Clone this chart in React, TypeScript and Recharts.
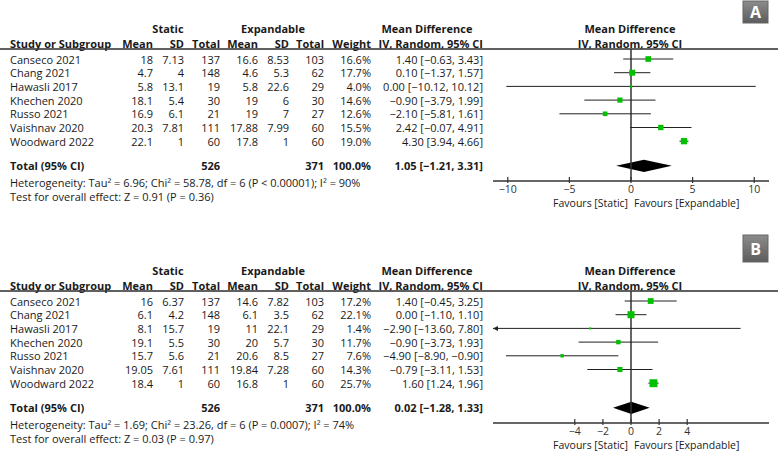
import React from 'react';
import { ScatterChart, Scatter, XAxis, YAxis, ReferenceLine, ReferenceArea, ReferenceDot, ErrorBar } from 'recharts';

const studies = ['Canseco 2021', 'Chang 2021', 'Hawasli 2017', 'Khechen 2020', 'Russo 2021', 'Vaishnav 2020', 'Woodward 2022'];

// Panel A
const staticMeanA = [18, 4.7, 5.8, 18.1, 16.9, 20.3, 22.1];
const staticSdA = [7.13, 4, 13.1, 5.4, 6.1, 7.81, 1];
const staticNA = [137, 148, 19, 30, 21, 111, 60];
const expMeanA = [16.6, 4.6, 5.8, 19, 19, 17.88, 17.8];
const expSdA = [8.53, 5.3, 22.6, 6, 7, 7.99, 1];
const expNA = [103, 62, 29, 30, 27, 60, 60];
const weightA = [16.6, 17.7, 4.0, 14.6, 12.6, 15.5, 19.0];
const mdA = [1.4, 0.1, 0.0, -0.9, -2.1, 2.42, 4.3];
const loA = [-0.63, -1.37, -10.12, -3.79, -5.81, -0.07, 3.94];
const hiA = [3.43, 1.57, 10.12, 1.99, 1.61, 4.91, 4.66];
const totalNA = [526, 371];
const pooledA = [1.05, -1.21, 3.31];
const hetA = 'Heterogeneity: Tau² = 6.96; Chi² = 58.78, df = 6 (P < 0.00001); I² = 90%';
const testA = 'Test for overall effect: Z = 0.91 (P = 0.36)';
const ticksA = [-10, -5, 0, 5, 10];

// Panel B
const staticMeanB = [16, 6.1, 8.1, 19.1, 15.7, 19.05, 18.4];
const staticSdB = [6.37, 4.2, 15.7, 5.5, 5.6, 7.61, 1];
const staticNB = [137, 148, 19, 30, 21, 111, 60];
const expMeanB = [14.6, 6.1, 11, 20, 20.6, 19.84, 16.8];
const expSdB = [7.82, 3.5, 22.1, 5.7, 8.5, 7.28, 1];
const expNB = [103, 62, 29, 30, 27, 60, 60];
const weightB = [17.2, 22.1, 1.4, 11.7, 7.6, 14.3, 25.7];
const mdB = [1.4, 0.0, -2.9, -0.9, -4.9, -0.79, 1.6];
const loB = [-0.45, -1.1, -13.6, -3.73, -8.9, -3.11, 1.24];
const hiB = [3.25, 1.1, 7.8, 1.93, -0.9, 1.53, 1.96];
const totalNB = [526, 371];
const pooledB = [0.02, -1.28, 1.33];
const hetB = 'Heterogeneity: Tau² = 1.69; Chi² = 23.26, df = 6 (P = 0.0007); I² = 74%';
const testB = 'Test for overall effect: Z = 0.03 (P = 0.97)';
const ticksB = [-4, -2, 0, 2, 4];

// layout
const FONT = "'Open Sans', 'Liberation Sans', sans-serif";
const ROW0 = 59;
const ROW_H = 13.7;
const TOTAL_ROW = 7.8;
const PLOT_TOP = 49;
const PLOT_BOTTOM = 181;
const CHART_H = 215;
const yDomain = [(PLOT_TOP - ROW0) / ROW_H, (PLOT_BOTTOM - ROW0) / ROW_H];
const rowY = (r: number) => ROW0 + ROW_H * r;

const minus = (s: string) => s.replace('-', '−');
const f2 = (v: number) => minus(v.toFixed(2));
const ci = (m: number, l: number, h: number) => `${f2(m)} [${f2(l)}, ${f2(h)}]`;

const AxisTick = (props: any) => {
  const { x, y, payload } = props;
  return (
    <g>
      <line x1={x} x2={x} y1={y - 4} y2={y + 2} stroke="#333" strokeWidth={1.2} />
      <text x={x} y={y + 8} textAnchor="middle" dominantBaseline="central" fontSize={10.5} fill="#333" fontFamily={FONT}>
        {minus(String(payload.value))}
      </text>
    </g>
  );
};

const Box = (p: any) => {
  const s = Math.max(2, 1.5 + p.payload.weight * 0.25);
  return <rect x={p.cx - s / 2} y={p.cy - s / 2} width={s} height={s} fill="#00c000" />;
};

const T = ({ x, y, a = 'end', b = false, size = 11, children }: any) => (
  <text x={x} y={y} textAnchor={a} dominantBaseline="central" fontSize={size} fontWeight={b ? 700 : 400} fill="#1a1a1a" fontFamily={FONT}>
    {children}
  </text>
);

const Panel = ({ top, letter, badge, d }: any) => {
  const [xmin, xmax] = d.xDomain;
  // CI whiskers are cut at the axis ends; an arrow marks the cut
  const rows = d.md.map((v: number, i: number) => ({
    md: v,
    row: i,
    weight: d.weight[i],
    err: [v - Math.max(d.lo[i], xmin), Math.min(d.hi[i], xmax) - v],
  }));
  const [pm, pl, ph] = d.pooled;
  const frac = (pm - pl) / (ph - pl);
  const diamond = (p: any) => {
    const { x, y, width, height } = p;
    const pts = [
      [x, y + height / 2],
      [x + width * frac, y],
      [x + width, y + height / 2],
      [x + width * frac, y + height],
    ];
    return <polygon points={pts.map((q) => q.join(',')).join(' ')} fill="#000" />;
  };
  const arrow = (p: any) => (
    <polygon points={`${p.cx},${p.cy} ${p.cx + 5},${p.cy - 2.5} ${p.cx + 5},${p.cy + 2.5}`} fill="#222" />
  );

  return (
    <div style={{ position: 'absolute', left: 0, top, width: 780, height: CHART_H }}>
      <svg width={780} height={CHART_H} style={{ position: 'absolute', left: 0, top: 0, overflow: 'visible' }}>
        <defs>
          <linearGradient id={`bg${letter}`} x1="0" y1="0" x2="0" y2="1">
            <stop offset="0" stopColor="#8c8c8c" />
            <stop offset="1" stopColor="#5c5c5c" />
          </linearGradient>
        </defs>
        <rect x={743} y={badge[0]} width={25} height={badge[1]} fill={`url(#bg${letter})`} stroke="#666" />
        <text
          x={755.5}
          y={badge[0] + badge[1] / 2}
          textAnchor="middle"
          dominantBaseline="central"
          fontSize={16}
          fontWeight={700}
          fill="#fff"
          fontFamily={FONT}
        >
          {letter}
        </text>

        <T x={168} y={28} a="middle" b>Static</T>
        <T x={273} y={28} a="middle" b>Expandable</T>
        <T x={427} y={28} a="middle" b>Mean Difference</T>
        <T x={630} y={28} a="middle" b>Mean Difference</T>
        <T x={10} y={43} a="start" b>Study or Subgroup</T>
        <T x={153} y={43} b>Mean</T>
        <T x={184} y={43} b>SD</T>
        <T x={220} y={43} b>Total</T>
        <T x={258} y={43} b>Mean</T>
        <T x={289} y={43} b>SD</T>
        <T x={324} y={43} b>Total</T>
        <T x={371} y={43} b>Weight</T>
        <T x={483} y={43} b>IV, Random, 95% CI</T>
        <T x={630} y={43} a="middle" b>IV, Random, 95% CI</T>
        <rect x={0} y={48.2} width={778} height={1.6} fill="#3a3a3a" />

        {studies.map((s, i) => (
          <g key={s}>
            <T x={10} y={rowY(i)} a="start">{s}</T>
            <T x={153} y={rowY(i)}>{d.staticMean[i]}</T>
            <T x={184} y={rowY(i)}>{d.staticSd[i]}</T>
            <T x={220} y={rowY(i)}>{d.staticN[i]}</T>
            <T x={258} y={rowY(i)}>{d.expMean[i]}</T>
            <T x={289} y={rowY(i)}>{d.expSd[i]}</T>
            <T x={324} y={rowY(i)}>{d.expN[i]}</T>
            <T x={371} y={rowY(i)}>{d.weight[i].toFixed(1)}%</T>
            <T x={483} y={rowY(i)}>{ci(d.md[i], d.lo[i], d.hi[i])}</T>
          </g>
        ))}

        <T x={10} y={rowY(TOTAL_ROW)} a="start" b>Total (95% CI)</T>
        <T x={220} y={rowY(TOTAL_ROW)} b>{d.totalN[0]}</T>
        <T x={324} y={rowY(TOTAL_ROW)} b>{d.totalN[1]}</T>
        <T x={371} y={rowY(TOTAL_ROW)} b>100.0%</T>
        <T x={483} y={rowY(TOTAL_ROW)} b>{ci(pm, pl, ph)}</T>
        <T x={10} y={182} a="start">{d.het}</T>
        <T x={10} y={196} a="start">{d.test}</T>

        <T x={628} y={203} size={10.5}>Favours [Static]</T>
        <T x={634} y={203} size={10.5} a="start">Favours [Expandable]</T>
      </svg>

      <div style={{ position: 'absolute', left: 0, top: 0 }}>
        <ScatterChart width={780} height={CHART_H} margin={{ top: PLOT_TOP, right: 11, bottom: 4, left: 493 }}>
          <XAxis
            type="number"
            dataKey="md"
            domain={d.xDomain}
            ticks={d.ticks}
            allowDataOverflow
            interval={0}
            tickLine={false}
            tickSize={0}
            tickMargin={0}
            tick={<AxisTick />}
            axisLine={{ stroke: '#333', strokeWidth: 1.5 }}
            height={30}
          />
          <YAxis type="number" dataKey="row" domain={yDomain} reversed hide allowDataOverflow width={0} />
          <ReferenceLine x={0} stroke="#333" strokeWidth={1.5} />
          <ReferenceArea
            x1={pl}
            x2={ph}
            y1={TOTAL_ROW - 0.44}
            y2={TOTAL_ROW + 0.44}
            shape={diamond}
            ifOverflow="visible"
          />
          <Scatter data={rows} shape={Box} isAnimationActive={false}>
            <ErrorBar dataKey="err" direction="x" width={0} stroke="#222" strokeWidth={1} isAnimationActive={false} />
          </Scatter>
          {rows
            .filter((r: any, i: number) => d.lo[i] < xmin)
            .map((r: any) => (
              <ReferenceDot key={r.row} x={xmin} y={r.row} shape={arrow} ifOverflow="visible" />
            ))}
        </ScatterChart>
      </div>
    </div>
  );
};

const panelA = {
  staticMean: staticMeanA, staticSd: staticSdA, staticN: staticNA,
  expMean: expMeanA, expSd: expSdA, expN: expNA,
  weight: weightA, md: mdA, lo: loA, hi: hiA,
  totalN: totalNA, pooled: pooledA, het: hetA, test: testA,
  ticks: ticksA, xDomain: [-11.2, 11.2],
};

const panelB = {
  staticMean: staticMeanB, staticSd: staticSdB, staticN: staticNB,
  expMean: expMeanB, expSd: expSdB, expN: expNB,
  weight: weightB, md: mdB, lo: loB, hi: hiB,
  totalN: totalNB, pooled: pooledB, het: hetB, test: testB,
  ticks: ticksB, xDomain: [-9.82, 9.82],
};

export default function App() {
  return (
    <div style={{ position: 'absolute', left: 0, top: 0, width: 780, height: 451, overflow: 'hidden', background: '#fff' }}>
      <Panel top={0} letter="A" badge={[1, 22]} d={panelA} />
      <Panel top={242} letter="B" badge={[-7, 27]} d={panelB} />
    </div>
  );
}
